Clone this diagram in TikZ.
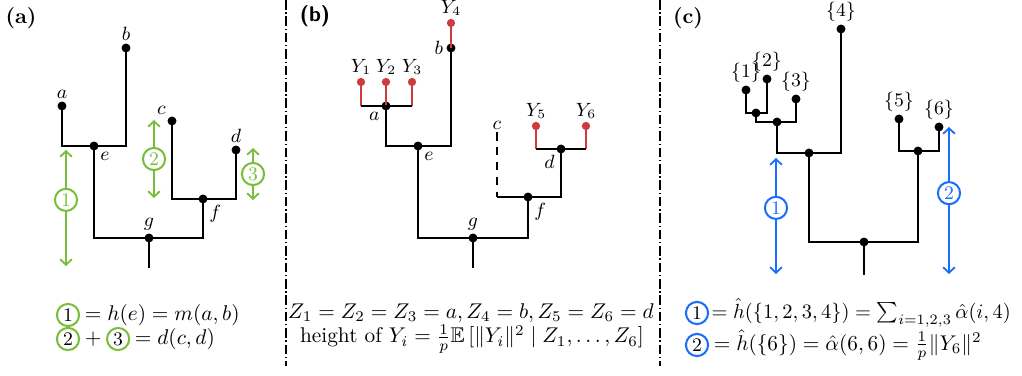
\documentclass[tikz,border=0pt]{standalone}
\usepackage{amsmath,amssymb}
\usepackage{tikz}
\usetikzlibrary{positioning,arrows.meta}
\definecolor{trGreen}{RGB}{120,190,60}
\definecolor{trBlue}{RGB}{25,110,250}
\definecolor{trRed}{RGB}{205,60,60}
\tikzset{
    branch/.style={line width=1.2pt, black},
    redbranch/.style={line width=1.2pt, trRed},
    dot/.style={circle, fill=black, inner sep=0pt, minimum size=4.2pt},
    reddot/.style={dot, fill=trRed, minimum size=3.9pt},
    tag/.style={font=\small, inner sep=1.2pt},
    gapg/.style={{Straight Barb[length=2.6pt,width=5.5pt]}-{Straight Barb[length=2.6pt,width=5.5pt]}, trGreen, line width=0.85pt},
    gapb/.style={gapg, trBlue},
    numg/.style={circle, draw=trGreen, line width=0.95pt, fill=white, inner sep=0.4pt,
                 minimum size=10.4pt, font=\small},
    numb/.style={numg, draw=trBlue},
    sep/.style={line width=0.6pt, dash pattern=on 4.5pt off 1.3pt on 0.6pt off 1.3pt},
    formula/.style={inner xsep=0.5pt},
    panel/.style={font=\bfseries}
}
\begin{document}
\begin{tikzpicture}[x=0.0165cm, y=-0.0165cm]
  \useasboundingbox (0,0) rectangle (1022,376);

  % panel (a)
  \node[panel] (pa) at (21,18) {(a)};
  \node[dot, label={[tag]above:$a$}] (a) at (62,106) {};
  \node[dot, label={[tag]above:$b$}] (b) at (126,48) {};
  \node[dot, label={[tag]above left:$c$}] (c) at (172,121) {};
  \node[dot, label={[tag]above:$d$}] (d) at (236,150) {};
  \node[dot, label={[tag]below right:$e$}] (e) at (94,146) {};
  \node[dot, label={[tag]below right:$f$}] (f) at (203,199) {};
  \node[dot, label={[tag]above:$g$}] (g) at (149,238) {};
  \coordinate (groot) at (149,268);
  \draw[branch] (a.center) |- (e.center) -| (b.center);
  \draw[branch] (c.center) |- (f.center) -| (d.center);
  \draw[branch] (e.center) |- (g.center) -| (f.center);
  \draw[branch] (g.center) -- (groot);
  % green gaps
  \coordinate (g1t) at (66,150);
  \coordinate (g1b) at (66,266);
  \coordinate (g2t) at (154,120);
  \coordinate (g2b) at (154,198);
  \coordinate (g3t) at (253,148);
  \coordinate (g3b) at (253,200);
  \draw[gapg] (g1t) -- node[numg, pos=0.43] (n1) {1} (g1b);
  \draw[gapg] (g2t) -- node[numg] (n2) {2} (g2b);
  \draw[gapg] (g3t) -- node[numg] (n3) {3} (g3b);

  % panel (b)
  \node[panel, font=\sffamily\bfseries] (pb) at (315,16) {(b)};
  \node[reddot, label={[tag]above:$Y_4$}] (y4) at (451,23) {};
  \node[dot, label={[tag]left:$b$}] (bb) at (451,48) {};
  \node[reddot, label={[tag]above:$Y_1$}] (y1) at (361,82) {};
  \node[reddot, label={[tag]above:$Y_2$}] (y2) at (386,82) {};
  \node[reddot, label={[tag]above:$Y_3$}] (y3) at (412,82) {};
  \node[dot, label={[tag]below left:$a$}] (ab) at (386,106) {};
  \node[dot, label={[tag]below right:$e$}] (eb) at (418,146) {};
  \coordinate[label={[tag]above:$c$}] (cb) at (497,132);
  \node[reddot, label={[tag]above:$Y_5$}] (y5) at (536,126) {};
  \node[reddot, label={[tag]above:$Y_6$}] (y6) at (586,126) {};
  \node[dot, label={[tag]below left:$d$}] (db) at (561,149) {};
  \node[dot, label={[tag]below right:$f$}] (fb) at (528,197) {};
  \node[dot, label={[tag]above:$g$}] (gb) at (473,238) {};
  \coordinate (gbroot) at (473,268);
  \draw[redbranch] (bb.center) -- (y4.center);
  \foreach \y in {y1,y2,y3}
    \draw[redbranch] (\y.center) -- (\y.center |- ab.center);
  \foreach \y in {y5,y6}
    \draw[redbranch] (\y.center) -- (\y.center |- db.center);
  \draw[branch] (y1.center |- ab.center) -- (y3.center |- ab.center);
  \draw[branch] (y5.center |- db.center) -- (y6.center |- db.center);
  \draw[branch] (ab.center) |- (eb.center) -| (bb.center);
  \draw[branch, dash pattern=on 4pt off 3pt] (cb) -- (cb |- fb.center);
  \draw[branch] (cb |- fb.center) -- (fb.center) -| (db.center);
  \draw[branch] (eb.center) |- (gb.center) -| (fb.center);
  \draw[branch] (gb.center) -- (gbroot);

  % panel (c)
  \node[panel] (pc) at (688,18) {(c)};
  \node[dot, label={[tag]above:$\{1\}$}] (s1) at (746,90) {};
  \node[dot, label={[tag]above:$\{2\}$}] (s2) at (767,79) {};
  \node[dot, label={[tag]above:$\{3\}$}] (s3) at (796,99) {};
  \node[dot, label={[tag]above:$\{4\}$}] (s4) at (841,29) {};
  \node[dot, label={[tag]above:$\{5\}$}] (s5) at (899,119) {};
  \node[dot, label={[tag]above:$\{6\}$}] (s6) at (939,127) {};
  \node[dot] (s12) at (756,113) {};
  \node[dot] (s123) at (777,122) {};
  \node[dot] (s1234) at (809,153) {};
  \node[dot] (s56) at (918,151) {};
  \node[dot] (sr) at (864,242) {};
  \coordinate (srroot) at (864,275);
  \draw[branch] (s1.center) |- (s12.center) -| (s2.center);
  \draw[branch] (s12.center) |- (s123.center) -| (s3.center);
  \draw[branch] (s123.center) |- (s1234.center) -| (s4.center);
  \draw[branch] (s5.center) |- (s56.center) -| (s6.center);
  \draw[branch] (s1234.center) |- (sr.center) -| (s56.center);
  \draw[branch] (sr.center) -- (srroot);
  % blue gaps
  \coordinate (b1t) at (776,158);
  \coordinate (b1b) at (776,274);
  \coordinate (b2t) at (949,127);
  \coordinate (b2b) at (949,274);
  \draw[gapb] (b1t) -- node[numb, pos=0.43] (m1) {1} (b1b);
  \draw[gapb] (b2t) -- node[numb, pos=0.45] (m2) {2} (b2b);

  % separators
  \draw[sep] (286,0) -- (286,366);
  \draw[sep] (660,0) -- (660,366);

  % formulas
  \node[numg] (k1) at (68,315) {1};
  \node[formula, right=1.5pt of k1] (t1) {$= h(e) = m(a,b)$};
  \node[numg] (k2) at (68,339) {2};
  \node[formula, right=1.5pt of k2] (plus) {$+$};
  \node[numg, right=1.5pt of plus] (k3) {3};
  \node[formula, right=1.5pt of k3] (t2) {$= d(c,d)$};
  \node (t3) at (471,313) {$Z_1 = Z_2 = Z_3 = a, Z_4 = b, Z_5 = Z_6 = d$};
  \node (t4) at (472,339) {height of $Y_i = \frac{1}{p}\mathbb{E}\,[\|Y_i\|^2 \mid Z_1,\ldots,Z_6]$};
  \node[numb] (k4) at (697,313) {1};
  \node[formula, right=0.5pt of k4, scale=0.96] (t5) {$= \hat{h}(\{1,2,3,4\}) = \sum_{i=1,2,3}\hat{\alpha}(i,4)$};
  \node[numb] (k5) at (697,345) {2};
  \node[formula, right=1.5pt of k5] (t6) {$= \hat{h}(\{6\}) = \hat{\alpha}(6,6) = \frac{1}{p}\|Y_6\|^2$};
\end{tikzpicture}
\end{document}
